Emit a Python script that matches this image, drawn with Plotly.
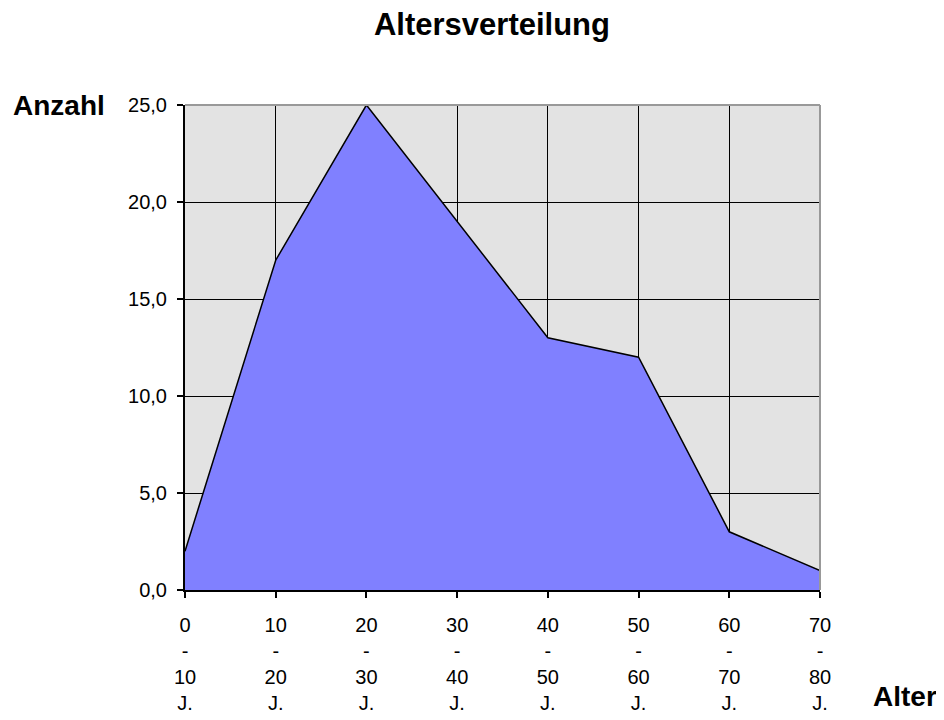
import plotly.graph_objects as go

categories = ["0<br>-<br>10<br>J.", "10<br>-<br>20<br>J.", "20<br>-<br>30<br>J.", "30<br>-<br>40<br>J.",
              "40<br>-<br>50<br>J.", "50<br>-<br>60<br>J.", "60<br>-<br>70<br>J.", "70<br>-<br>80<br>J."]
counts = [2, 17, 25, 19, 13, 12, 3, 1]
y_ticks = [0, 5, 10, 15, 20, 25]

positions = list(range(len(categories)))
FONT = "Liberation Sans, Arial, sans-serif"

fig = go.Figure()
fig.add_trace(go.Scatter(
    x=positions, y=counts, mode="lines", fill="tozeroy",
    fillcolor="#8080ff", line=dict(color="black", width=1.5),
    hoverinfo="skip", showlegend=False,
))

fig.update_layout(
    width=944, height=720,
    margin=dict(l=177, r=132, t=97, b=138),
    paper_bgcolor="white", plot_bgcolor="#e3e3e3",
    separators=",.",
    font=dict(family=FONT, size=20, color="black"),
    title=dict(text="<b>Altersverteilung</b>", x=0.5127, xanchor="center", y=0.978, yanchor="middle",
               font=dict(family=FONT, size=31, color="black")),
    showlegend=False,
)
fig.update_xaxes(
    range=[0, len(categories) - 1], tickmode="array", tickvals=positions, ticktext=categories,
    showgrid=True, gridcolor="black", gridwidth=1,
    showline=True, linecolor="black", linewidth=2,
    ticks="outside", ticklen=6, tickcolor="black", tickwidth=2,
    ticklabelstandoff=10,
    zeroline=False, tickfont=dict(size=20),
)
fig.update_yaxes(
    range=[0, 25], tickmode="array", tickvals=y_ticks, tickformat=".1f",
    showgrid=True, gridcolor="black", gridwidth=1,
    showline=True, linecolor="black", linewidth=2,
    ticks="outside", ticklen=6, tickcolor="black", tickwidth=2,
    ticklabelstandoff=6,
    zeroline=False, tickfont=dict(size=20),
)
# gray frame on top and right
fig.add_shape(type="line", xref="paper", yref="paper", x0=0, x1=1, y0=1, y1=1,
              line=dict(color="#999999", width=2))
fig.add_shape(type="line", xref="paper", yref="paper", x0=1, x1=1, y0=0, y1=1,
              line=dict(color="#999999", width=2))

fig.add_annotation(text="<b>Anzahl</b>", xref="paper", yref="paper", x=-0.199, y=1.0,
                   xanchor="center", yanchor="middle", showarrow=False,
                   font=dict(family=FONT, size=28, color="black"))
fig.add_annotation(text="<b>Alter</b>", xref="paper", yref="paper", x=1.134, y=-0.2206,
                   xanchor="center", yanchor="middle", showarrow=False,
                   font=dict(family=FONT, size=28, color="black"))

fig.write_html("out.html")
